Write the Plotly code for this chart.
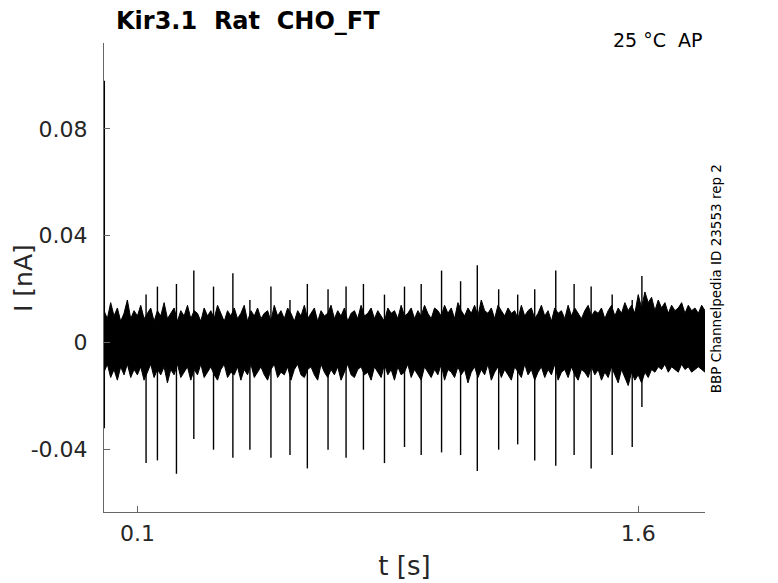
import numpy as np
import plotly.graph_objects as go

# recording window (s) and envelope bin width (s)
t_start, t_end = 0.0, 1.8
bin_dt = 0.01

# noise envelope, in pA (max / min per 10 ms bin)
noise_hi = [
    12, 9, 15, 10, 13, 8, 11, 16, 9, 12, 10, 14, 9, 11, 13, 8, 12, 10, 15, 9,
    11, 13, 8, 12, 10, 14, 9, 12, 11, 8, 13, 10, 12, 9, 14, 11, 8, 12, 10, 13,
    9, 11, 14, 8, 12, 10, 13, 9, 11, 12, 8, 14, 10, 12, 9, 13, 11, 8, 12, 10,
    14, 9, 11, 13, 8, 12, 10, 11, 14, 9, 12, 10, 13, 8, 11, 12, 9, 14, 10, 11,
    13, 9, 12, 10, 8, 13, 11, 12, 9, 14, 10, 11, 13, 9, 12, 10, 14, 11, 9, 13,
    12, 10, 14, 11, 13, 9, 15, 12, 10, 13, 11, 14, 10, 16, 12, 11, 13, 9, 14, 12,
    10, 13, 11, 12, 9, 14, 10, 12, 13, 9, 11, 14, 10, 12, 8, 13, 11, 12, 9, 14,
    10, 13, 11, 9, 12, 14, 10, 12, 11, 13, 9, 12, 14, 10, 13, 11, 15, 12, 14, 11,
    18, 13, 19, 15, 17, 12, 16, 13, 15, 11, 14, 12, 13, 15, 11, 14, 12, 13, 11, 14,
    12]
noise_lo = [
    -11, -8, -13, -10, -14, -9, -12, -8, -13, -10, -12, -9, -14, -11, -8, -13, -10, -12, -9, -15,
    -10, -12, -8, -13, -11, -9, -14, -10, -12, -8, -13, -11, -9, -12, -14, -10, -8, -13, -11, -12,
    -9, -14, -10, -12, -8, -13, -11, -9, -12, -14, -10, -8, -13, -11, -12, -9, -14, -10, -8, -12,
    -13, -10, -9, -12, -14, -8, -11, -13, -10, -12, -9, -14, -11, -8, -12, -13, -10, -9, -12, -11,
    -14, -9, -11, -13, -8, -12, -10, -14, -9, -12, -11, -8, -13, -10, -12, -14, -9, -11, -13, -10,
    -12, -8, -14, -10, -11, -13, -9, -12, -10, -15, -11, -9, -13, -10, -12, -8, -14, -11, -9, -13,
    -10, -12, -14, -9, -11, -13, -8, -12, -10, -14, -11, -9, -13, -10, -12, -8, -14, -11, -10, -13,
    -9, -12, -14, -10, -11, -13, -9, -12, -10, -14, -11, -13, -9, -12, -15, -10, -13, -16, -11, -14,
    -12, -15, -11, -13, -10, -11, -9, -10, -8, -11, -9, -10, -11, -8, -10, -9, -11, -10, -9, -10,
    -11]

# AP-clamp spikes: time (s), min and max current (pA)
spike_t = [0.001, 0.126, 0.160, 0.217, 0.269, 0.328, 0.386, 0.437, 0.500, 0.557,
           0.609, 0.671, 0.725, 0.777, 0.840, 0.900, 0.950, 1.011, 1.068, 1.118,
           1.182, 1.239, 1.290, 1.353, 1.408, 1.459, 1.522, 1.582, 1.611]
spike_lo = [-32, -45, -44, -49, -36, -40, -43, -40, -43, -42,
            -47, -40, -43, -40, -45, -39, -42, -41, -42, -48,
            -40, -38, -44, -46, -42, -47, -42, -39, -24]
spike_hi = [98, 18, 21, 22, 27, 21, 26, 16, 21, 16,
            22, 20, 21, 22, 18, 21, 22, 27, 23, 29,
            20, 18, 20, 27, 22, 21, 18, 16, 25]

y_ticks = [-0.04, 0, 0.04, 0.08]
y_ticklabels = ['-0.04', '0', '0.04', '0.08']
x_ticks = [0.1, 1.6]
x_ticklabels = ['0.1', '1.6']

t_bins = np.minimum(np.arange(len(noise_hi)) * bin_dt, t_end)
hi_nA = np.array(noise_hi) / 1000.0
lo_nA = np.array(noise_lo) / 1000.0

sx, sy = [], []
for t, lo, hi in zip(spike_t, spike_lo, spike_hi):
    sx += [t, t, None]
    sy += [lo / 1000.0, hi / 1000.0, None]

fig = go.Figure()
fig.add_trace(go.Scatter(x=t_bins, y=lo_nA, mode='lines',
                         line=dict(color='black', width=1), hoverinfo='skip'))
fig.add_trace(go.Scatter(x=t_bins, y=hi_nA, mode='lines', fill='tonexty',
                         fillcolor='black', line=dict(color='black', width=1),
                         hoverinfo='skip'))
fig.add_trace(go.Scatter(x=sx, y=sy, mode='lines',
                         line=dict(color='black', width=1.4), hoverinfo='skip'))

axis_style = dict(showline=True, linecolor='#666666', linewidth=1, ticks='inside',
                  ticklen=6, tickcolor='#666666', showgrid=False, zeroline=False,
                  automargin=False, tickfont=dict(size=22, color='#262626'))

# page body adds 8px, margins compensate so the plot area sits at 104..705 x 43..512
fig.update_layout(
    width=778, height=583,
    margin=dict(l=96, r=81, t=35, b=79),
    paper_bgcolor='white', plot_bgcolor='white',
    showlegend=False,
    font=dict(family='DejaVu Sans', color='#262626'),
    xaxis=dict(range=[t_start, t_end], tickvals=x_ticks, ticktext=x_ticklabels,
               title=dict(text='t [s]', font=dict(size=26), standoff=11),
               ticklabelstandoff=2, **axis_style),
    yaxis=dict(range=[-0.0633, 0.1121], tickvals=y_ticks, ticktext=y_ticklabels,
               ticklabelstandoff=11, **axis_style),
)

# y label placed by hand, plotly's title can't sit close enough to the edge
fig.add_annotation(text='I [nA]', xref='paper', yref='paper',
                   x=-0.134, y=0.5, xanchor='center', yanchor='middle', showarrow=False,
                   textangle=-90, borderpad=0, font=dict(size=25, color='#262626'))
fig.add_annotation(text='<b>Kir3.1\u00a0\u00a0Rat\u00a0\u00a0CHO_FT</b>', xref='paper', yref='paper',
                   x=0.016, y=1.046, xanchor='left', yanchor='middle', showarrow=False,
                   font=dict(size=24, color='black'))
fig.add_annotation(text='25 °C\u00a0\u00a0AP', xref='paper', yref='paper',
                   x=1.0, y=1.006, xanchor='right', yanchor='middle', showarrow=False,
                   font=dict(size=19, color='black'))
fig.add_annotation(text='BBP Channelpedia ID 23553 rep 2', xref='paper', yref='paper',
                   x=1.0195, y=0.498, xanchor='center', yanchor='middle', showarrow=False,
                   textangle=-90, font=dict(size=13.5, color='black'))

fig.write_html("out.html")
